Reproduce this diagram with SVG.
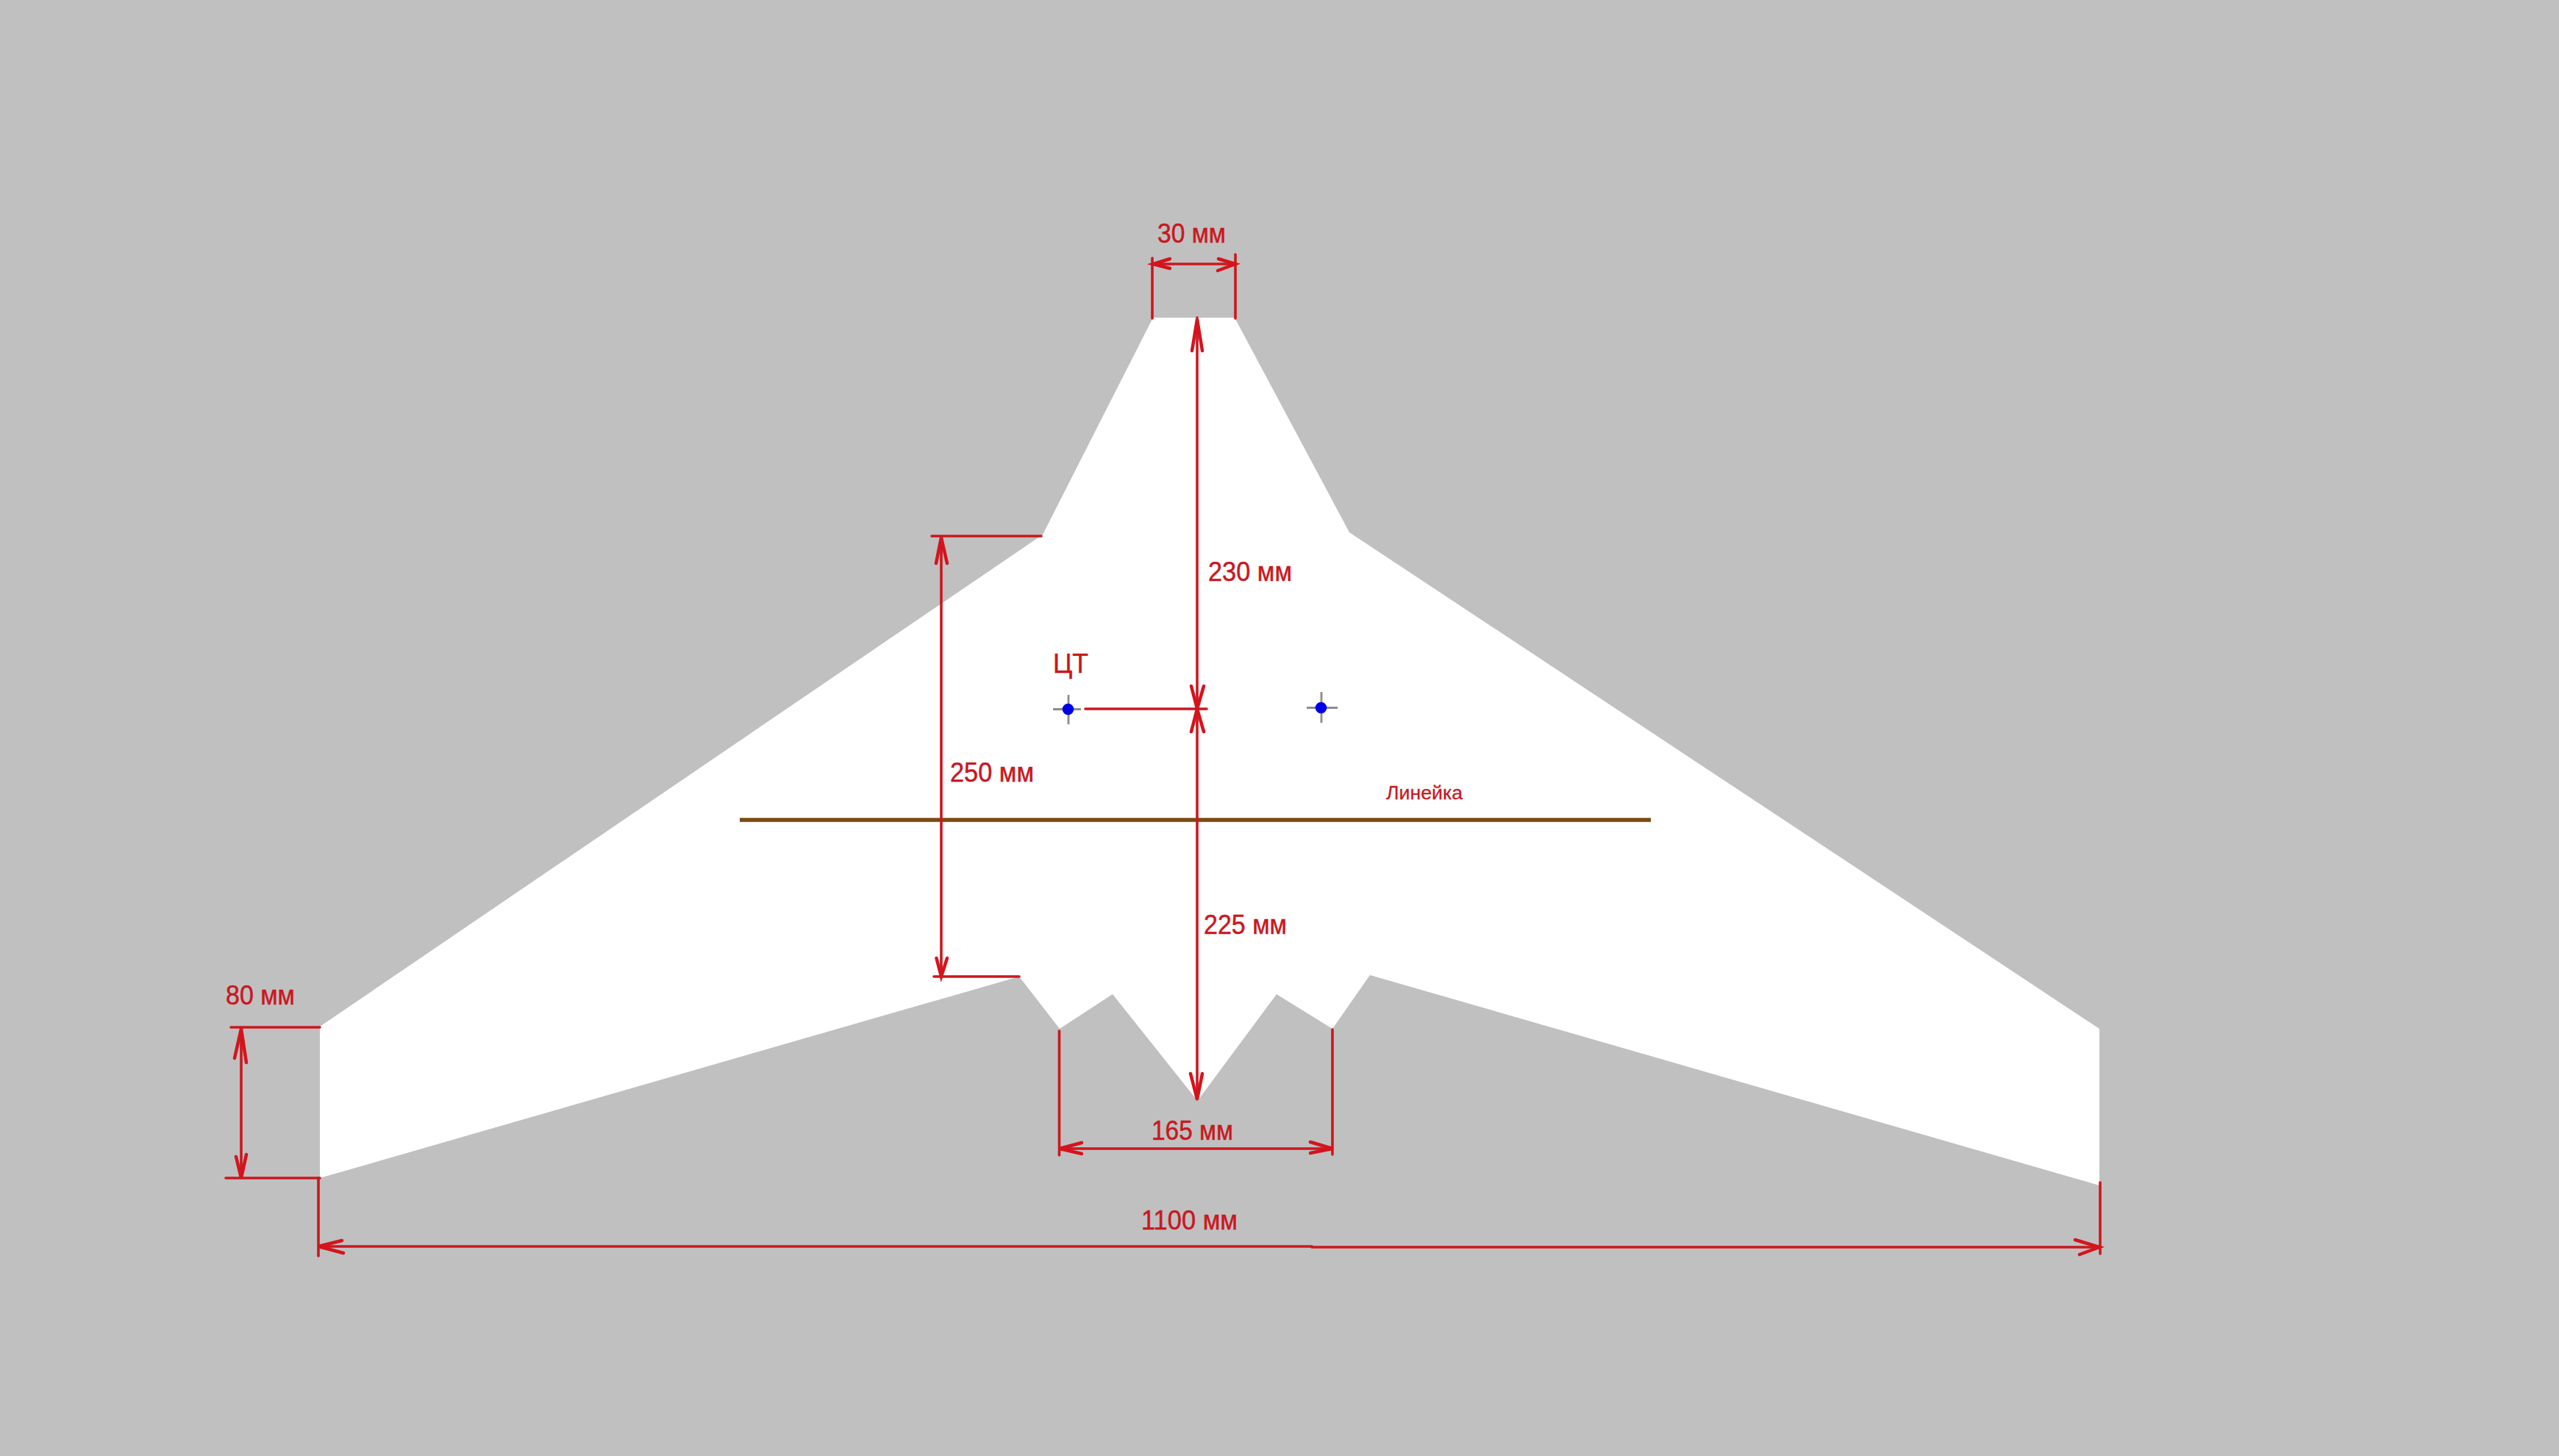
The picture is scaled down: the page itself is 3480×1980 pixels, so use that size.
<svg xmlns="http://www.w3.org/2000/svg" width="3480" height="1980" viewBox="0 0 3480 1980">
<style>
.dim{fill:none;stroke:#cb171f;stroke-width:3.6;stroke-linecap:round;stroke-linejoin:round}
.head{fill:none;stroke:#d4141c;stroke-width:4.5;stroke-linecap:round;stroke-linejoin:miter}
.lbl{font-family:"Liberation Sans",Arial,sans-serif;font-size:36.5px;fill:#c8181f;stroke:#c8181f;stroke-width:0.5}
.cross{stroke:#8c8c8c;stroke-width:2.8;fill:none}
.dot{fill:#0000e6}
</style>
<rect id="background" width="3480" height="1980" fill="#c0c0c0"/>
<g id="wing"><polygon fill="#ffffff" points="1568,432 1679,432 1835,724 2855,1399 2855,1612 1863,1326 1812,1399 1736,1352 1628.5,1497 1513,1352 1441,1399 1386,1328 435,1602 435,1396 1418,727"/></g>
<g id="ruler"><line x1="1006" y1="1115" x2="2245" y2="1115" stroke="#7a4a12" stroke-width="5.5"/></g>
<g id="connectors">
<g id="dim-30">
<path class="dim" d="M1567,351V433M1680,346V433M1568,359H1680"/>
<path class="head" d="M1591,352L1568,359L1591,365M1657,352L1680,359L1656,368"/>
</g>
<g id="dim-230">
<path class="dim" d="M1628,432V964"/>
<path class="head" d="M1621,477L1628,434L1635,477M1620,933L1628,964L1637,933"/>
</g>
<g id="dim-cg"><path class="dim" d="M1476,964H1641"/></g>
<g id="dim-225">
<path class="dim" d="M1628,964V1495"/>
<path class="head" d="M1620,995L1628,964L1637,995M1619,1460L1628,1495L1635,1460"/>
</g>
<g id="dim-250">
<path class="dim" d="M1267,729H1416M1280,729V1328M1270,1328H1386"/>
<path class="head" d="M1273,766L1280,731L1288,766M1273.500,1303L1280,1328L1288,1303"/>
</g>
<g id="dim-165">
<path class="dim" d="M1440.500,1402V1571M1812,1400V1570M1441,1562H1812"/>
<path class="head" d="M1471,1554L1441,1562L1471,1569M1782,1553L1812,1562L1782,1568"/>
</g>
<g id="dim-80">
<path class="dim" d="M314,1397H435M307,1602H435M328,1397V1602"/>
<path class="head" d="M319,1439L328,1399L335,1445M321,1573L328,1602L335,1570"/>
</g>
<g id="dim-1100">
<path class="dim" d="M433,1602V1708M2856,1608V1705M433,1695H1784V1696H2855"/>
<path class="head" d="M465,1687L433,1695L467,1704M2822,1686L2855,1696L2828,1706"/>
</g>
</g>
<g id="cg-left">
<path class="cross" d="M1432,964.500H1470M1453,945V985"/>
<circle class="dot" cx="1452.500" cy="964.500" r="7.800"/>
</g>
<g id="cg-right">
<path class="cross" d="M1777,962.500H1819M1797,941V983"/>
<circle class="dot" cx="1796.500" cy="962.500" r="7.800"/>
</g>
<g id="labels">
<text class="lbl" x="1574" y="330" textLength="93" lengthAdjust="spacingAndGlyphs">30 мм</text>
<text class="lbl" x="1643" y="790" textLength="114" lengthAdjust="spacingAndGlyphs">230 мм</text>
<text class="lbl" x="1292" y="1063" textLength="114" lengthAdjust="spacingAndGlyphs">250 мм</text>
<text class="lbl" x="1637" y="1270" textLength="113" lengthAdjust="spacingAndGlyphs">225 мм</text>
<text class="lbl" x="1566" y="1550" textLength="111" lengthAdjust="spacingAndGlyphs">165 мм</text>
<text class="lbl" x="1552" y="1672" textLength="131" lengthAdjust="spacingAndGlyphs">1100 мм</text>
<text class="lbl" x="307" y="1366" textLength="94" lengthAdjust="spacingAndGlyphs">80 мм</text>
<text class="lbl" x="1432" y="915" style="font-size:37px" textLength="48" lengthAdjust="spacingAndGlyphs">ЦТ</text>
<text class="lbl" x="1885" y="1087" style="font-size:26.500px;stroke-width:0.3" textLength="104" lengthAdjust="spacingAndGlyphs">Линейка</text>
</g>
</svg>
